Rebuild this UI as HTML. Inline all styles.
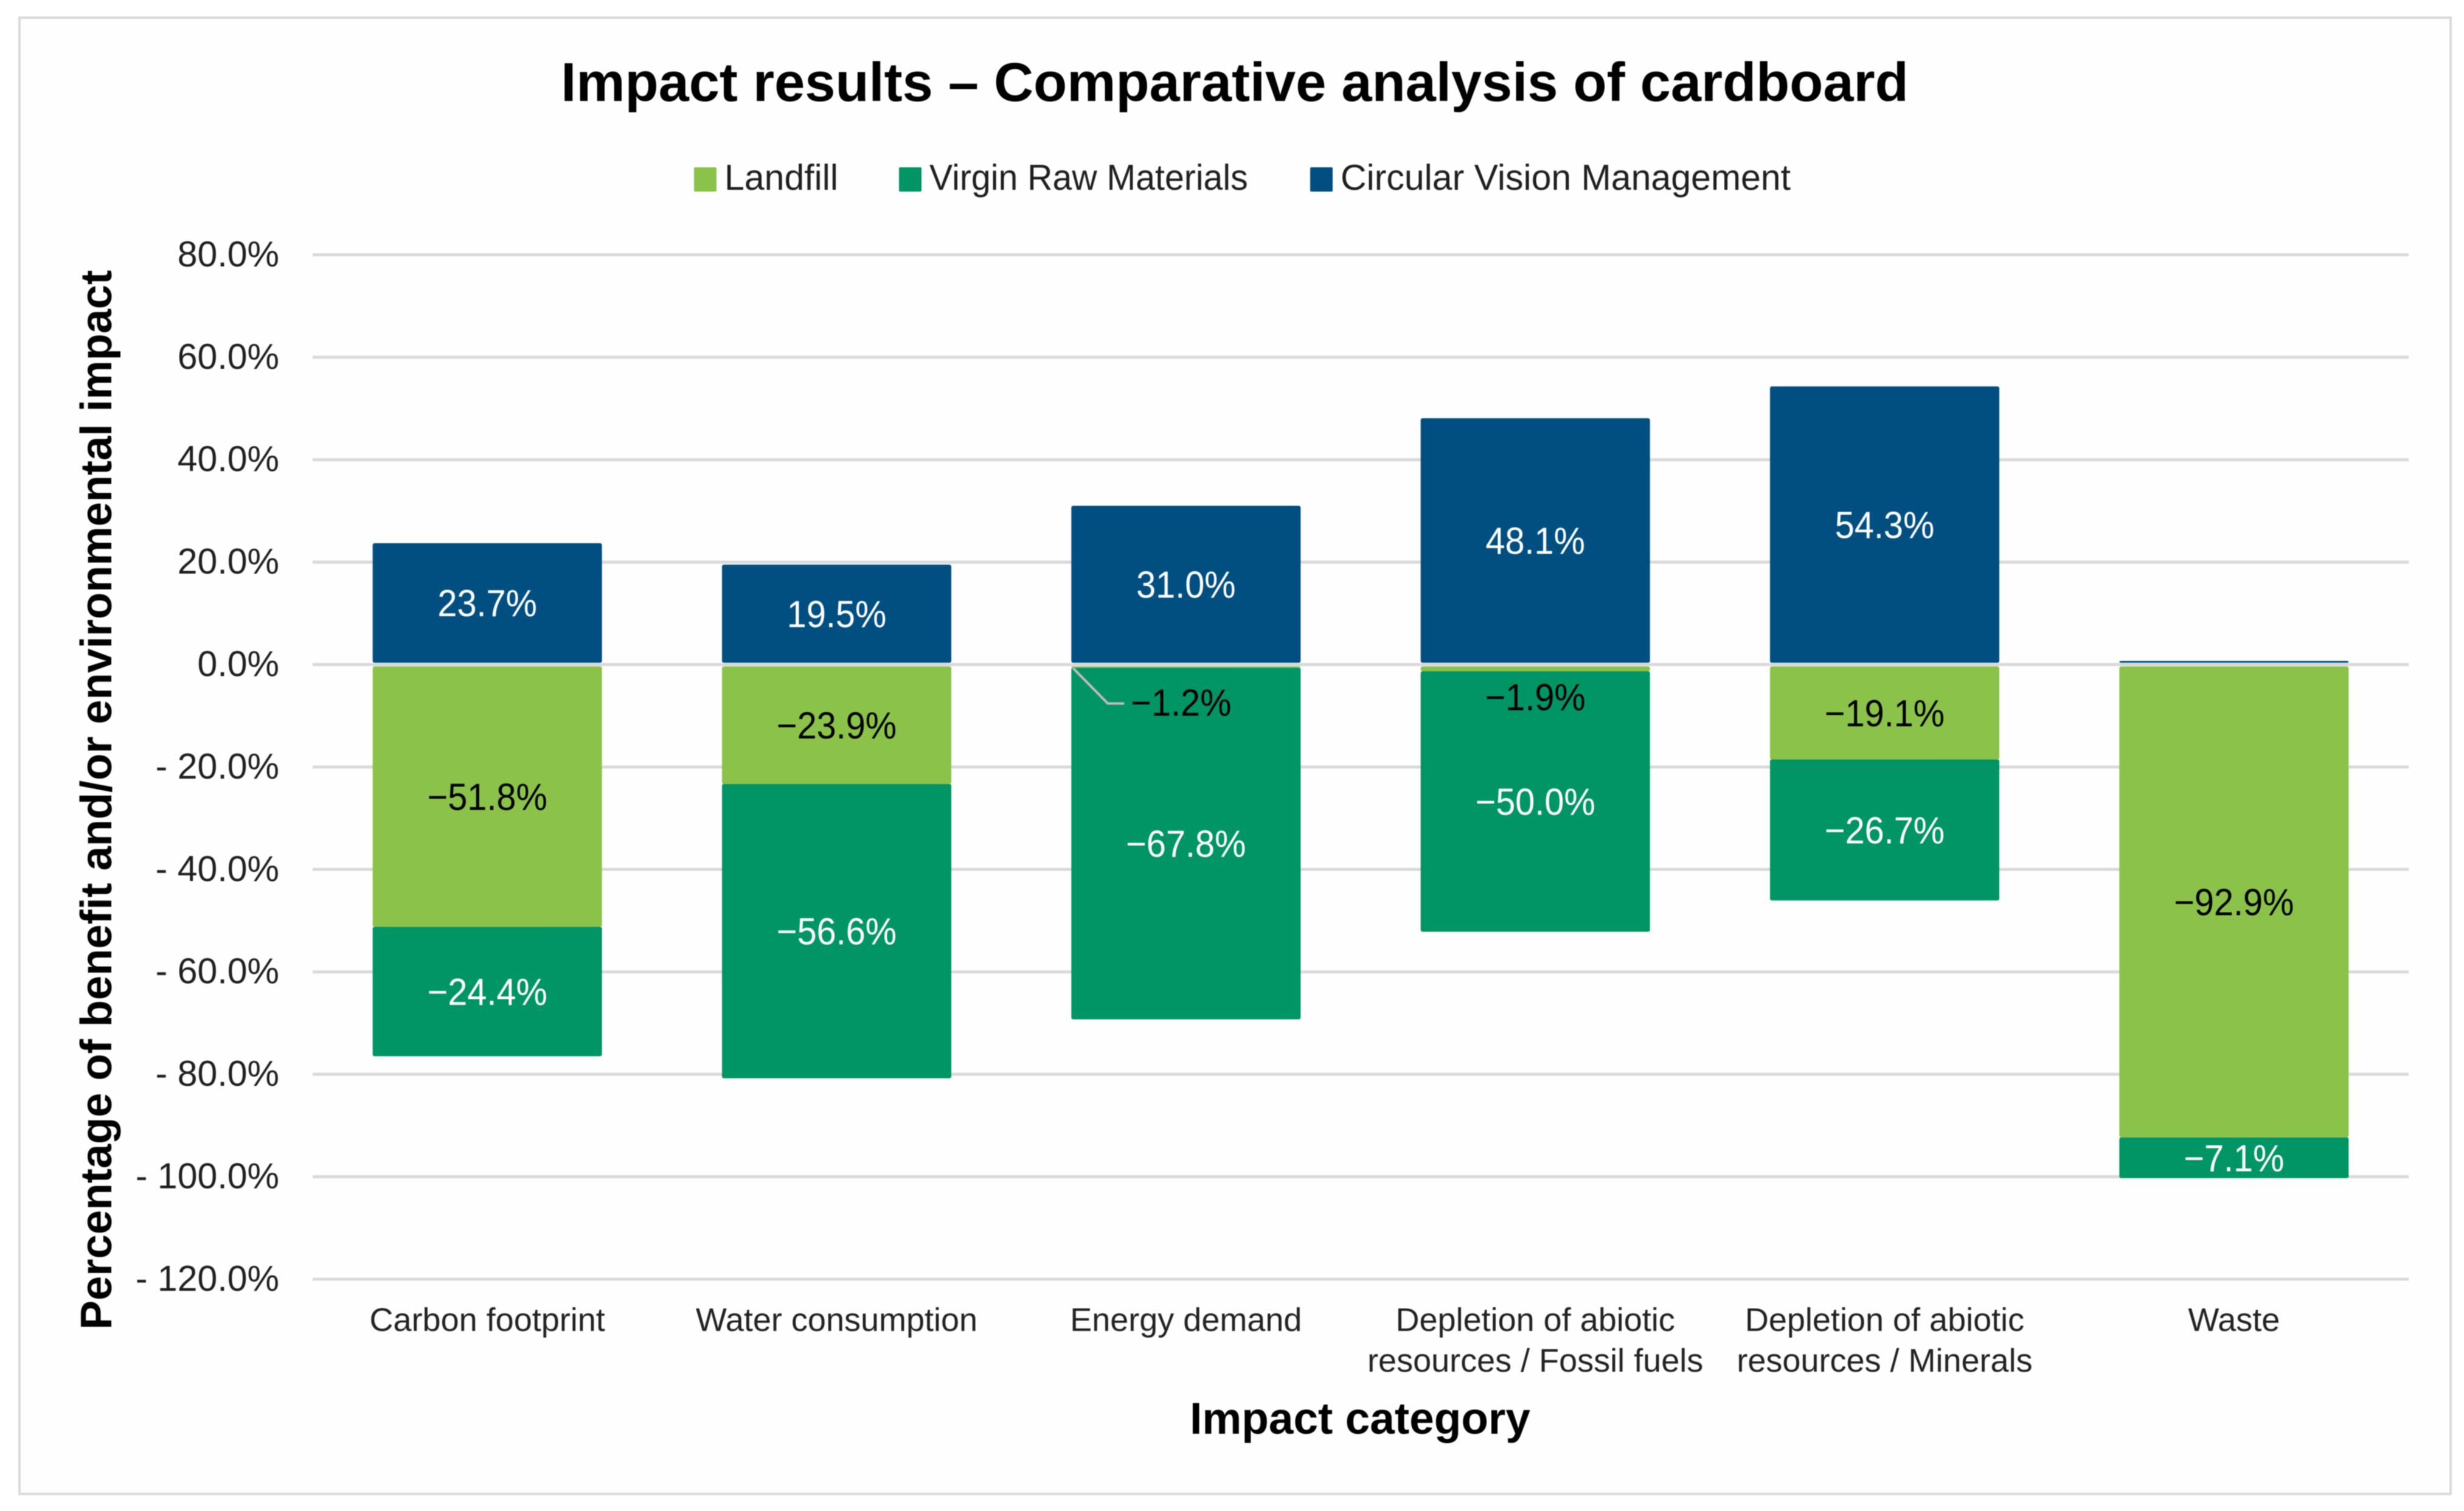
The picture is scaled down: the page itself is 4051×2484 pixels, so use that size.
<!DOCTYPE html>
<html lang="en">
<head>
<meta charset="utf-8">
<title>Impact results - Comparative analysis of cardboard</title>
<style>
  html, body { margin: 0; padding: 0; background: #ffffff; }
  #chart { display: block; width: 4051px; height: 2484px; font-family: "Liberation Sans", Arial, sans-serif; filter: blur(0.8px); }
  .tick { font-size: 59px; fill: #1f1f1f; text-anchor: end; }
  .cat { font-size: 54px; fill: #222222; text-anchor: middle; }
  .legend-text { font-size: 59px; fill: #1f1f1f; }
  .value { font-size: 62px; text-anchor: middle; }
</style>
</head>
<body>
<svg id="chart" xmlns="http://www.w3.org/2000/svg" width="4051" height="2484" viewBox="0 0 4051 2484">
  <rect x="0" y="0" width="4051" height="2484" fill="#ffffff"/>
  <rect x="32" y="29" width="3997" height="2427" fill="#fefefe" stroke="#d9d9d9" stroke-width="4"/>
  <text x="2030" y="166" font-size="90.2" font-weight="700" fill="#000000" text-anchor="middle">Impact results – Comparative analysis of cardboard</text>
  <g id="grid"></g>
  <g id="ticks"></g>
  <g id="bars"></g>
  <g id="values"></g>
  <g id="cats"></g>
  <g id="legend"></g>
  <text transform="translate(183,1315) rotate(-90)" font-size="72" font-weight="700" fill="#000000" text-anchor="middle" textLength="1742" lengthAdjust="spacingAndGlyphs">Percentage of benefit and/or environmental impact</text>
  <text x="2236" y="2357" font-size="73" font-weight="700" fill="#000000" text-anchor="middle">Impact category</text>
</svg>
<script>
const categories = [
  ['Carbon footprint'],
  ['Water consumption'],
  ['Energy demand'],
  ['Depletion of abiotic', 'resources / Fossil fuels'],
  ['Depletion of abiotic', 'resources / Minerals'],
  ['Waste']
];
const landfill = [-51.8, -23.9, -1.2, -1.9, -19.1, -92.9];
const virginRawMaterials = [-24.4, -56.6, -67.8, -50.0, -26.7, -7.1];
const circularVisionManagement = [23.7, 19.5, 31.0, 48.1, 54.3, 0.7];
const tickValues = [80, 60, 40, 20, 0, -20, -40, -60, -80, -100, -120];
const seriesNames = ['Landfill', 'Virgin Raw Materials', 'Circular Vision Management'];
const leaderCategory = 'Energy demand';

const NS = 'http://www.w3.org/2000/svg';
const colors = { landfill: '#8bc34a', virgin: '#019465', circular: '#004f80' };
const plotLeft = 514, plotRight = 3960, zeroY = 1092.5, pxPerUnit = 8.42;
const barWidth = 377, zeroGap = 3, junctionShift = -5, bottomShift = 2.3;
const bandWidth = (plotRight - plotLeft) / categories.length;

function yScale(v) { return zeroY - v * pxPerUnit; }
function xCenter(i) { return plotLeft + bandWidth * (i + 0.5); }
function make(tag, attrs, parent, text) {
  const el = document.createElementNS(NS, tag);
  for (const k in attrs) el.setAttribute(k, attrs[k]);
  if (text !== undefined) el.textContent = text;
  parent.appendChild(el);
  return el;
}
function slug(s) { return s.toLowerCase().replace(/[^a-z0-9]+/g, '-').replace(/^-|-$/g, ''); }

const gridG = document.getElementById('grid');
const ticksG = document.getElementById('ticks');
tickValues.forEach(function (v) {
  const line = make('line', { x1: plotLeft, x2: plotRight, y1: yScale(v), y2: yScale(v), stroke: '#d9d9d9', 'stroke-width': 5 }, gridG);
  
  
  const label = (v < 0 ? '- ' : '') + Math.abs(v).toFixed(1) + '%';
  const t = make('text', { x: 459, y: yScale(v) + 19, class: 'tick' }, ticksG, label);
  
  
});

const barsG = document.getElementById('bars');
const valuesG = document.getElementById('values');

function drawSegment(i, key, top, bottom) {
  const r = make('rect', { x: xCenter(i) - barWidth / 2, y: top, width: barWidth, height: Math.max(bottom - top, 0), rx: 3, fill: colors[key] }, barsG);
  
  
}
function formatValue(v) { return (v < 0 ? '\u2212' : '') + Math.abs(v).toFixed(1) + '%'; }
function drawValue(i, key, v, cy, dx, fill) {
  const t = make('text', { x: xCenter(i) + dx, y: cy + 22, class: 'value', fill: fill }, valuesG, formatValue(v));
  t.setAttribute('textLength', (t.getComputedTextLength() * 0.93).toFixed(1));
  t.setAttribute('lengthAdjust', 'spacingAndGlyphs');
  
  
}

categories.forEach(function (cat, i) {
  const a = landfill[i], b = virginRawMaterials[i], c = circularVisionManagement[i];
  const name = cat.join(' ');
  const cTop = yScale(c), cBottom = yScale(0) - zeroGap;
  const aTop = yScale(0) + zeroGap, aBottom = yScale(a) + junctionShift;
  const bBottom = yScale(a + b) + bottomShift;
  drawSegment(i, 'circular', cTop, cBottom);
  drawSegment(i, 'virgin', aBottom, bBottom);
  drawSegment(i, 'landfill', aTop, aBottom);

  if (c >= 1) drawValue(i, 'circular', c, (cTop + cBottom) / 2, 0, '#ffffff');
  if (Math.abs(a) >= 3) {
    drawValue(i, 'landfill', a, (aTop + aBottom) / 2, 0, '#000000');
  } else if (name === leaderCategory) {
    drawValue(i, 'landfill', a, yScale(0) + 62, -8, '#000000');
    const x0 = xCenter(i) - barWidth / 2;
    const y0 = yScale(0);
    const pts = [[x0 + 3, y0 + 6], [x0 + 60, y0 + 64], [x0 + 87, y0 + 64]].map(function (p) { return p.join(','); }).join(' ');
    const leader = make('polyline', { points: pts, fill: 'none', stroke: '#c4b9b9', 'stroke-width': 4 }, valuesG);
    
    
  } else {
    drawValue(i, 'landfill', a, yScale(0) + 53, 0, '#000000');
  }
  drawValue(i, 'virgin', b, (aBottom + bBottom) / 2, 0, '#ffffff');
});

const catsG = document.getElementById('cats');
categories.forEach(function (lines, i) {
  lines.forEach(function (line, j) {
    const t = make('text', { x: xCenter(i), y: 2188 + j * 67, class: 'cat' }, catsG, line);
    
    
  });
});

const legendG = document.getElementById('legend');
const legendKeys = ['landfill', 'virgin', 'circular'];
const legendStart = [1141, 1478, 2154];
seriesNames.forEach(function (label, i) {
  const s = make('rect', { x: legendStart[i], y: 275, width: 37, height: 40, rx: 2, fill: colors[legendKeys[i]] }, legendG);
  
  
  const t = make('text', { x: legendStart[i] + 50, y: 312, class: 'legend-text' }, legendG, label);
  t.setAttribute('textLength', (t.getComputedTextLength() * (i === 1 ? 0.97 : 1)).toFixed(1));
  t.setAttribute('lengthAdjust', 'spacingAndGlyphs');
  
  
});
</script>
</body>
</html>
